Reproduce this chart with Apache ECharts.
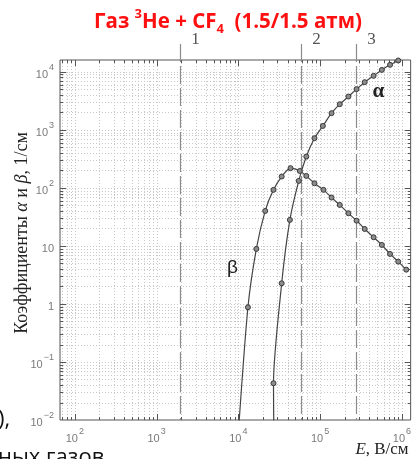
<!DOCTYPE html>
<html>
<head>
<meta charset="utf-8">
<script src="https://cdn.jsdelivr.net/npm/echarts@6/dist/echarts.min.js"></script>
<style>
  html, body { margin: 0; padding: 0; background: #fff; }
  #chart { width: 414px; height: 459px; }
</style>
</head>
<body>
<div id="chart"></div>
<script>
// Townsend coefficients of the gas mixture vs. field strength E (V/cm)
// alpha: ionisation coefficient, 1/cm
const alphaE = [26900, 33900, 42700, 54800, 67800, 85300, 108000, 138000, 174000, 222000, 279000, 351000, 451000, 569000, 716000, 902000];
const alphaV = [0.043, 2.27, 28.1, 132, 347, 719, 1170, 1940, 2770, 3750, 5040, 6640, 8530, 10800, 13200, 15700];
// curve continues below the lower axis limit
const alphaTailE = [27200];
const alphaTailV = [0.005];

// beta coefficient, 1/cm
const betaE = [13100, 16600, 21300, 26900, 33900, 43500, 56400, 67800, 85300, 110000, 138000, 174000, 222000, 279000, 351000, 451000, 569000, 716000, 902000, 1130000];
const betaV = [0.877, 8.87, 40.1, 92.5, 157, 219, 196, 161, 120, 92.5, 68.1, 50.9, 36.6, 27.3, 19.6, 14.1, 10.4, 7.28, 5.36, 3.9];
const betaTailE = [10000];
const betaTailV = [0.006];

// boundaries of the operating regions 1, 2, 3 (V/cm)
const regionNames = ['1', '2', '3'];
const regionE = [1930, 59000, 275000];

// axis ranges
const xMin = 65.9, xMax = 1.28e6;
const yMin = 0.01, yMax = 1.6e4;

// curve captions, placed in data coordinates
const captions = [
  { text: 'α', E: 5.14e5, v: 4520, font: 'bold 21px "Liberation Serif", serif' },
  { text: 'β', E: 8470, v: 4.18, font: '19px "Liberation Sans", sans-serif' }
];

function logTicks(lo, hi) {
  const out = [];
  for (let n = -3; n <= 7; n++) {
    for (let k = 1; k <= 9; k++) {
      const v = k * Math.pow(10, n);
      if (v >= lo * 0.999999 && v <= hi * 1.000001) out.push({ v: v, major: k === 1 });
    }
  }
  return out;
}
const xGrid = logTicks(xMin, xMax);
const yGrid = logTicks(yMin, yMax);

function isPow10(v) {
  const l = Math.log10(v);
  return Math.abs(l - Math.round(l)) < 1e-6;
}
function powLabel(v, plainSmall) {
  if (!isPow10(v)) return '';
  const e = Math.round(Math.log10(v));
  if (plainSmall && e === 0) return '{b|1}';
  if (plainSmall && e === 1) return '{b|10}';
  const ex = e < 0 ? '\u2212' + (-e) : String(e);
  return '{b|10}{s|' + ex + '}';
}
const labelFont = '"Liberation Sans", Arial, sans-serif';
const labelRich = {
  b: { fontSize: 11, color: '#7a7a7a', fontFamily: labelFont, lineHeight: 17, verticalAlign: 'bottom' },
  s: { fontSize: 9, color: '#7a7a7a', fontFamily: labelFont, lineHeight: 17, verticalAlign: 'top', padding: [0, 0, 0, 1] }
};

function toPairs(xs, ys) { return xs.map((x, i) => [x, ys[i]]); }

function decoRender(params, api) {
  const cs = params.coordSys;
  const L = cs.x, T = cs.y, R = cs.x + cs.width, B = cs.y + cs.height;
  const ch = [];
  const gridStyle = { stroke: '#c8c8c8', lineWidth: 1, lineDash: [1, 2] };
  const tickStyle = { stroke: '#555', lineWidth: 1 };
  xGrid.forEach(t => {
    const px = Math.round(api.coord([t.v, yMin])[0]) + 0.5;
    if (px <= L + 1 || px >= R - 1) return;
    ch.push({ type: 'line', silent: true, shape: { x1: px, y1: T, x2: px, y2: B }, style: gridStyle });
    const len = t.major ? 6 : 3;
    ch.push({ type: 'line', silent: true, shape: { x1: px, y1: B, x2: px, y2: B - len }, style: tickStyle });
    ch.push({ type: 'line', silent: true, shape: { x1: px, y1: T, x2: px, y2: T + len }, style: tickStyle });
  });
  yGrid.forEach(t => {
    const py = Math.round(api.coord([xMin, t.v])[1]) + 0.5;
    if (py <= T + 1 || py >= B - 1) return;
    ch.push({ type: 'line', silent: true, shape: { x1: L, y1: py, x2: R, y2: py }, style: gridStyle });
    const len = t.major ? 6 : 3;
    ch.push({ type: 'line', silent: true, shape: { x1: L, y1: py, x2: L + len, y2: py }, style: tickStyle });
    ch.push({ type: 'line', silent: true, shape: { x1: R, y1: py, x2: R - len, y2: py }, style: tickStyle });
  });
  // region boundaries: dashed verticals rising above the frame, numbered
  regionE.forEach((e, i) => {
    const px = Math.round(api.coord([e, yMin])[0]) + 0.5;
    ch.push({ type: 'line', silent: true, shape: { x1: px, y1: T - 16, x2: px, y2: B },
      style: { stroke: '#8c8c8c', lineWidth: 1.2, lineDash: [18, 4] } });
    ch.push({ type: 'text', silent: true, x: px + 15, y: T - 20,
      style: { text: regionNames[i], font: '17px "Liberation Serif", serif', fill: '#555',
        textAlign: 'center', textVerticalAlign: 'middle' } });
  });
  captions.forEach(c => {
    const p = api.coord([c.E, c.v]);
    ch.push({ type: 'text', silent: true, x: p[0], y: p[1],
      style: { text: c.text, font: c.font, fill: '#222', textAlign: 'center', textVerticalAlign: 'middle' } });
  });
  return { type: 'group', children: ch };
}

const chart = echarts.init(document.getElementById('chart'), null, { renderer: 'canvas' });

const curveStyle = { color: '#444', width: 1.2 };
const markerStyle = { color: '#8c8c8c', borderColor: '#3a3a3a', borderWidth: 1 };

function curveData(xs, ys, tailXs, tailYs, tailFirst) {
  const pts = toPairs(xs, ys).map(p => ({ value: p }));
  const tail = toPairs(tailXs, tailYs).map(p => ({ value: p, symbol: 'none' }));
  return tailFirst ? tail.concat(pts) : pts.concat(tail);
}

const titleRed = '#ff1010';
chart.setOption({
  animation: false,
  backgroundColor: '#fff',
  title: {
    text: '{a|Газ }{s|3}{a|He + CF}{u|4}{a|  (1.5/1.5 атм)}',
    left: 89, top: 3,
    textStyle: {
      rich: {
        a: { fontSize: 20.5, fontWeight: 'bold', color: titleRed, fontFamily: '"Open Sans", sans-serif', lineHeight: 28, verticalAlign: 'middle' },
        s: { fontSize: 13, fontWeight: 'bold', color: titleRed, fontFamily: '"Open Sans", sans-serif', lineHeight: 28, verticalAlign: 'top' },
        u: { fontSize: 13, fontWeight: 'bold', color: titleRed, fontFamily: '"Open Sans", sans-serif', lineHeight: 28, verticalAlign: 'bottom' }
      }
    }
  },
  grid: {
    left: 60, top: 60, right: -2, bottom: 39,
    show: true, borderColor: '#555', borderWidth: 1, backgroundColor: '#fff'
  },
  xAxis: {
    type: 'log', logBase: 10, min: xMin, max: xMax,
    axisLine: { show: false }, axisTick: { show: false }, splitLine: { show: false },
    axisLabel: { margin: 7, formatter: v => powLabel(v, false), rich: labelRich, showMinLabel: false }
  },
  yAxis: {
    type: 'log', logBase: 10, min: yMin, max: yMax,
    axisLine: { show: false }, axisTick: { show: false }, splitLine: { show: false },
    axisLabel: { margin: 6, formatter: v => powLabel(v, true), rich: labelRich, showMaxLabel: false }
  },
  graphic: [
    { type: 'text', x: 22, y: 233, rotation: Math.PI / 2,
      style: { text: '{n|Коэффициенты }{i|α}{n| и }{i|β}{n|, 1/см}', textAlign: 'center', textVerticalAlign: 'middle',
        rich: {
          n: { fontSize: 18, fontFamily: '"Liberation Serif", serif', fill: '#222' },
          i: { fontSize: 18, fontFamily: '"Liberation Serif", serif', fontStyle: 'italic', fill: '#222' }
        } } },
    { type: 'text', x: 382, y: 450,
      style: { text: '{i|E}{n|, В/см}', textAlign: 'center', textVerticalAlign: 'middle',
        rich: {
          n: { fontSize: 17, fontFamily: '"Liberation Serif", serif', fill: '#222' },
          i: { fontSize: 17, fontFamily: '"Liberation Serif", serif', fontStyle: 'italic', fill: '#222' }
        } } },
    { type: 'text', x: -2, y: 420, style: { text: '),', font: '22px "Open Sans", sans-serif', fill: '#111', textVerticalAlign: 'middle' } },
    { type: 'text', x: -2, y: 458, style: { text: 'ных газов', font: '22px "Open Sans", sans-serif', fill: '#111', textVerticalAlign: 'middle' } }
  ],
  series: [
    {
      type: 'custom', coordinateSystem: 'cartesian2d', z: 1, silent: true,
      data: [[xMin, yMin]], renderItem: decoRender
    },
    {
      name: 'alpha', type: 'line', z: 3, clip: true, smooth: 0.25,
      symbol: 'circle', symbolSize: 5,
      lineStyle: curveStyle, itemStyle: markerStyle,
      data: curveData(alphaE, alphaV, alphaTailE, alphaTailV, true)
    },
    {
      name: 'beta', type: 'line', z: 3, clip: true, smooth: 0.25,
      symbol: 'circle', symbolSize: 5,
      lineStyle: curveStyle, itemStyle: markerStyle,
      data: curveData(betaE, betaV, betaTailE, betaTailV, true)
    }
  ]
});
</script>
</body>
</html>
